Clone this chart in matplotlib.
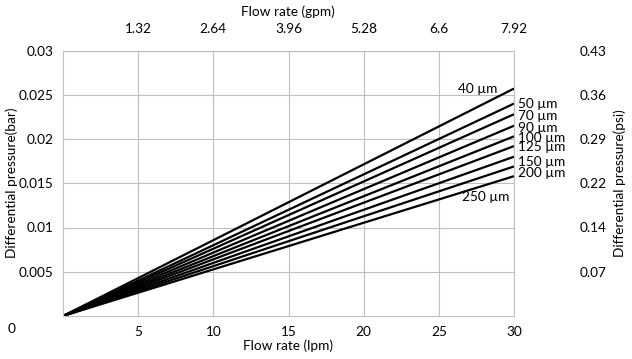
import matplotlib
matplotlib.use("Agg")
import matplotlib.pyplot as plt
import numpy as np

# ─── DATA ────────────────────────────────────────────────────────────────
flow_lpm = [0, 30]
mesh_labels = ["40 µm", "50 µm", "70 µm", "90 µm", "100 µm",
               "125 µm", "150 µm", "200 µm", "250 µm"]
# differential pressure (bar) at 30 lpm, lines start at 0
dp_end = [0.0257, 0.0240, 0.0228, 0.0215, 0.0203,
          0.0192, 0.0180, 0.0169, 0.0158]
lpm_ticks = [5, 10, 15, 20, 25, 30]
gpm_labels = ["1.32", "2.64", "3.96", "5.28", "6.6", "7.92"]
bar_ticks = [0.005, 0.01, 0.015, 0.02, 0.025, 0.03]
bar_labels = ["0.005", "0.01", "0.015", "0.02", "0.025", "0.03"]
psi_labels = ["0.07", "0.14", "0.22", "0.29", "0.36", "0.43"]

# label offsets in points (dx, dy) from each line's end point
label_off = [(-12, 0), (3, 0), (3, -1.5), (3, -1.5), (3, -1),
             (3, -1), (3, -3.5), (3, -4.5), (-3, -15)]

FS = 9.8
plt.rcParams['font.family'] = ['Lato', 'DejaVu Sans']
plt.rcParams['font.size'] = FS

W, H = 632, 359
fig = plt.figure(figsize=(W / 100, H / 100), dpi=100)
ax = fig.add_axes([63 / W, 1 - 316 / H, 451 / W, 265.5 / H])

grid_c = '#bfbfbf'
for v in lpm_ticks:
    ax.axvline(v, color=grid_c, lw=0.8, zorder=0)
for v in bar_ticks:
    ax.axhline(v, color=grid_c, lw=0.8, zorder=0)

for end, lab, off in zip(dp_end, mesh_labels, label_off):
    ax.plot(flow_lpm, [0, end], color='black', lw=1.6, solid_capstyle='butt')
    ha = 'right' if off[0] < 0 else 'left'
    ax.annotate(lab, xy=(30, end), xytext=off, textcoords='offset points',
                ha=ha, va='center', fontsize=FS, annotation_clip=False)

ax.set_xlim(0, 30)
ax.set_ylim(0, 0.03)
for s in ax.spines.values():
    s.set_color(grid_c)
    s.set_linewidth(0.8)
ax.set_xticks(lpm_ticks)
ax.set_yticks(bar_ticks)
ax.set_yticklabels(bar_labels)
ax.tick_params(axis='x', length=0, pad=7)
ax.tick_params(axis='y', length=0, pad=7)

# top axis: gpm
axt = ax.twiny()
axt.set_xlim(ax.get_xlim())
axt.set_xticks(lpm_ticks)
axt.set_xticklabels(gpm_labels)
axt.tick_params(length=0, pad=11)
for s in axt.spines.values():
    s.set_visible(False)

# right axis: psi
axr = ax.twinx()
axr.set_ylim(ax.get_ylim())
axr.set_yticks(bar_ticks)
axr.set_yticklabels(psi_labels)
axr.tick_params(length=0, pad=47)
for s in axr.spines.values():
    s.set_visible(False)

# axis titles
fig.text(288 / W, 1 - 346 / H, 'Flow rate (lpm)', ha='center', va='center')
fig.text(288 / W, 1 - 12 / H, 'Flow rate (gpm)', ha='center', va='center')
fig.text(12 / W, 1 - 183 / H, 'Differential pressure(bar)', rotation=90,
         ha='center', va='center')
fig.text(620 / W, 1 - 183 / H, 'Differential pressure(psi)', rotation=90,
         ha='center', va='center')
fig.text(8 / W, 1 - 329 / H, '0', ha='left', va='center')

fig.savefig('out.png', dpi=100, facecolor='white')
